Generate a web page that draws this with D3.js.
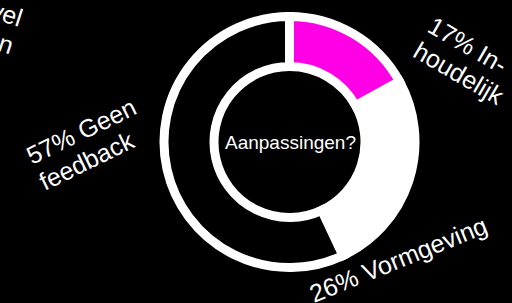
<!DOCTYPE html>
<html><head><meta charset="utf-8">
<script src="https://cdn.jsdelivr.net/npm/d3@7"></script>
<style>html,body{margin:0;padding:0;background:#000;overflow:hidden} svg{display:block}</style>
</head><body>
<svg id="chart" width="512" height="303"></svg>
<script>
// ---- data ----
const categories = ["Inhoudelijk", "Vormgeving", "Geen feedback", "Zowel"];
const values = [17, 26, 57, 0];
const labelLines = [["17% In-", "houdelijk"], ["26% Vormgeving"], ["57% Geen", "feedback"], ["0% Zowel", "beiden"]];
const centerTitle = "Aanpassingen?";

// ---- styles / layout ----
const colors = ["#ff00e6", "#ffffff", "#000000", "#000000"];
const W = 512, H = 303;
const cx = 289.5, cy = 142, rOuter = 125.5, rInner = 75.5;
const font = "'Liberation Sans', Arial, Helvetica, sans-serif";
// label anchor (baseline of first line), rotation, anchor
const labelLayout = [
  {x: 426, y: 31, rot: 30, anchor: "start"},
  {x: 314, y: 303, rot: -22, anchor: "start"},
  {x: 32, y: 165, rot: -26, anchor: "start"},
  {x: 19, y: 27, rot: 18, anchor: "end"}
];

const svg = d3.select("#chart");
svg.append("rect").attr("width", W).attr("height", H).attr("fill", "#000");

const pie = d3.pie().sort(null).value(d => d.value);
const arcs = pie(categories.map((c, i) => ({cat: c, value: values[i], color: colors[i]})));
const arc = d3.arc().innerRadius(rInner).outerRadius(rOuter);

const g = svg.append("g").attr("transform", `translate(${cx},${cy})`);
g.selectAll("path").data(arcs).join("path")
  .attr("d", arc)
  .attr("fill", d => d.data.color)
  .attr("stroke", "#fff")
  .attr("stroke-width", 9)
  .attr("stroke-linejoin", "miter");

g.append("text")
  .attr("x", 1).attr("y", 7)
  .attr("text-anchor", "middle")
  .attr("fill", "#fff")
  .style("font-family", font)
  .style("font-size", "19px")
  .text(centerTitle);

const lg = svg.append("g");
labelLines.forEach((lines, i) => {
  const L = labelLayout[i];
  const t = lg.append("text")
    .attr("transform", `translate(${L.x},${L.y}) rotate(${L.rot})`)
    .attr("text-anchor", L.anchor)
    .attr("fill", "#fff")
    .style("font-family", font)
    .style("font-size", "25px");
  lines.forEach((ln, j) => {
    t.append("tspan").attr("x", 0).attr("dy", j === 0 ? 0 : 29).text(ln);
  });
});
</script>
</body></html>
